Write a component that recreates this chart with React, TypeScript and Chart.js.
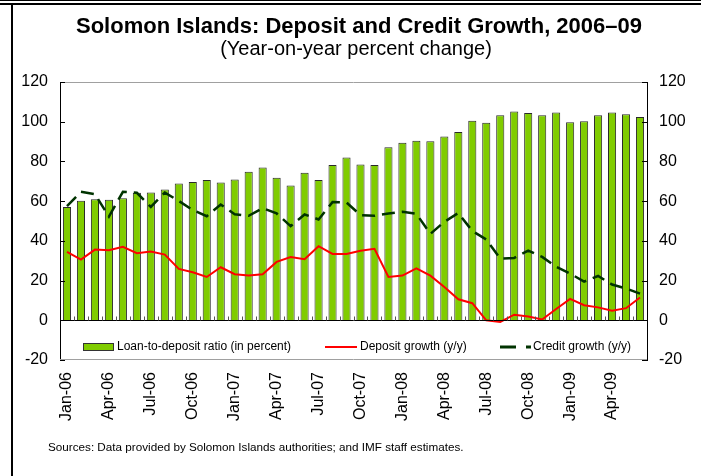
import React, { useEffect, useRef } from "react";
import { Chart, registerables } from "chart.js";

Chart.register(...registerables);

const months = [
  "Jan-06", "Feb-06", "Mar-06", "Apr-06", "May-06", "Jun-06", "Jul-06", "Aug-06", "Sep-06", "Oct-06", "Nov-06", "Dec-06",
  "Jan-07", "Feb-07", "Mar-07", "Apr-07", "May-07", "Jun-07", "Jul-07", "Aug-07", "Sep-07", "Oct-07", "Nov-07", "Dec-07",
  "Jan-08", "Feb-08", "Mar-08", "Apr-08", "May-08", "Jun-08", "Jul-08", "Aug-08", "Sep-08", "Oct-08", "Nov-08", "Dec-08",
  "Jan-09", "Feb-09", "Mar-09", "Apr-09", "May-09", "Jun-09",
];

const loanToDeposit = [
  57.1, 60.2, 61.0, 60.7, 61.5, 64.2, 64.4, 65.9, 68.9, 69.7, 70.6, 69.4,
  70.9, 74.8, 77.0, 71.8, 67.9, 74.3, 70.6, 78.2, 82.0, 78.5, 78.2, 87.1,
  89.4, 90.4, 90.1, 92.6, 94.8, 100.5, 99.5, 103.2, 105.2, 104.4, 103.2, 104.7,
  99.7, 100.2, 103.2, 104.7, 103.7, 102.4,
];

const depositGrowth = [
  34.5, 30.6, 35.6, 35.3, 37.0, 33.8, 34.6, 33.1, 25.9, 24.2, 21.8, 26.7,
  23.2, 22.5, 23.2, 29.4, 31.9, 30.8, 37.3, 33.4, 33.4, 35.0, 36.0, 21.8,
  22.5, 26.2, 22.5, 16.8, 10.6, 8.6, 0.0, -0.8, 2.8, 1.9, 0.4, 5.7,
  10.8, 7.6, 6.5, 4.8, 6.1, 11.5,
];

const creditGrowth = [
  57.5, 64.7, 63.5, 52.2, 64.7, 64.2, 57.1, 64.3, 60.1, 55.5, 52.4, 58.3,
  53.4, 52.6, 56.5, 53.8, 47.4, 53.3, 50.8, 59.5, 59.3, 53.0, 52.6, 53.8,
  54.6, 53.6, 43.5, 49.6, 54.0, 45.0, 40.7, 31.1, 31.4, 35.1, 31.9, 26.9,
  23.5, 19.5, 22.3, 18.0, 16.0, 13.4,
];

const yTicks = [-20, 0, 20, 40, 60, 80, 100, 120];

const titleText = "Solomon Islands: Deposit and Credit Growth, 2006\u201309";
const subtitleText = "(Year-on-year percent change)";
const sourceText = "Sources: Data provided by Solomon Islands authorities; and IMF staff estimates.";
const legendLabels = ["Loan-to-deposit ratio (in percent)", "Deposit growth (y/y)", "Credit growth (y/y)"];

const FONT = "'Liberation Sans', Arial, sans-serif";
const BAR_GREEN = "#80CC00";
const RED = "#FF0000";
const DARK_GREEN = "#003300";

const decorPlugin = {
  id: "decor",
  beforeDatasetsDraw(chart: any) {
    const { ctx, chartArea } = chart;
    ctx.save();
    ctx.strokeStyle = "#a0a0a0";
    ctx.lineWidth = 1;
    ctx.beginPath();
    ctx.moveTo(chartArea.left, Math.round(chartArea.top) + 0.5);
    ctx.lineTo(chartArea.right, Math.round(chartArea.top) + 0.5);
    ctx.moveTo(chartArea.left, Math.round(chartArea.bottom) - 0.5);
    ctx.lineTo(chartArea.right, Math.round(chartArea.bottom) - 0.5);
    ctx.stroke();
    ctx.restore();
  },
  afterDatasetsDraw(chart: any) {
    const { ctx, chartArea, scales } = chart;
    const y = scales.y;
    ctx.save();
    const y0 = Math.round(y.getPixelForValue(0)) + 0.5;
    ctx.strokeStyle = "#000";
    ctx.lineWidth = 1;
    ctx.beginPath();
    ctx.moveTo(chartArea.left, y0);
    ctx.lineTo(chartArea.right, y0);
    ctx.stroke();
    ctx.strokeStyle = "#555";
    ctx.beginPath();
    const n = months.length;
    const step = (chartArea.right - chartArea.left) / n;
    for (let i = 1; i < n; i++) {
      const px = Math.round(chartArea.left + step * i) + 0.5;
      ctx.moveTo(px, y0);
      ctx.lineTo(px, y0 - 4);
    }
    ctx.stroke();
    ctx.strokeStyle = "#000";
    ctx.beginPath();
    for (const v of yTicks) {
      const py = Math.round(y.getPixelForValue(v)) + 0.5;
      ctx.moveTo(chartArea.left, py);
      ctx.lineTo(chartArea.left + 5, py);
      ctx.moveTo(chartArea.right, py);
      ctx.lineTo(chartArea.right - 5, py);
    }
    ctx.stroke();

    const ly = 347;
    ctx.font = `12px ${FONT}`;
    ctx.textBaseline = "middle";
    ctx.textAlign = "left";
    ctx.fillStyle = BAR_GREEN;
    ctx.fillRect(83, ly - 4, 30, 8);
    ctx.strokeStyle = "#333";
    ctx.strokeRect(83.5, ly - 3.5, 30, 7);
    ctx.fillStyle = "#000";
    ctx.fillText(legendLabels[0], 117, ly);

    ctx.strokeStyle = RED;
    ctx.lineWidth = 2;
    ctx.beginPath();
    ctx.moveTo(325, ly);
    ctx.lineTo(357, ly);
    ctx.stroke();
    ctx.fillText(legendLabels[1], 360, ly);

    ctx.strokeStyle = DARK_GREEN;
    ctx.lineWidth = 3;
    ctx.setLineDash([16, 10]);
    ctx.beginPath();
    ctx.moveTo(500, ly);
    ctx.lineTo(531, ly);
    ctx.stroke();
    ctx.setLineDash([]);
    ctx.fillText(legendLabels[2], 533, ly);
    ctx.restore();
  },
  afterDraw(chart: any) {
    const { ctx, width, height } = chart;
    ctx.save();
    ctx.fillStyle = "#000";
    ctx.fillRect(0, 0, width, 1);
    ctx.fillRect(0, 3, width, 2);
    ctx.fillRect(11, 3, 2, height - 3);
    ctx.textAlign = "center";
    ctx.textBaseline = "middle";
    ctx.font = `bold 22px ${FONT}`;
    ctx.fillText(titleText, 359, 27);
    ctx.font = `20px ${FONT}`;
    ctx.fillText(subtitleText, 356, 49);
    ctx.textAlign = "left";
    ctx.font = `11.7px ${FONT}`;
    ctx.fillText(sourceText, 48, 448);
    ctx.restore();
  },
};

export default function App() {
  const canvasRef = useRef<HTMLCanvasElement | null>(null);

  useEffect(() => {
    document.body.style.margin = "0";
    const canvas = canvasRef.current;
    if (!canvas) return;
    const chart = new Chart(canvas, {
      type: "bar",
      data: {
        labels: months,
        datasets: [
          {
            type: "line",
            label: legendLabels[1],
            data: depositGrowth,
            borderColor: RED,
            borderWidth: 2,
            pointRadius: 0,
            tension: 0,
            order: 1,
            yAxisID: "y",
          },
          {
            type: "line",
            label: legendLabels[2],
            data: creditGrowth,
            borderColor: DARK_GREEN,
            borderWidth: 2.5,
            borderDash: [13, 7],
            pointRadius: 0,
            tension: 0,
            order: 2,
            yAxisID: "y",
          },
          {
            type: "bar",
            label: legendLabels[0],
            data: loanToDeposit,
            backgroundColor: BAR_GREEN,
            borderColor: "#2a2a2a",
            borderWidth: { top: 1, left: 1, right: 1, bottom: 0 },
            borderSkipped: "bottom",
            barPercentage: 0.58,
            categoryPercentage: 1,
            order: 3,
            yAxisID: "y",
          },
        ] as any,
      },
      options: {
        responsive: false,
        animation: false,
        devicePixelRatio: 1,
        layout: { padding: { top: 82, left: 0, right: 0, bottom: 0 } },
        plugins: {
          legend: { display: false },
          title: { display: false },
          tooltip: { enabled: false },
        },
        scales: {
          x: {
            offset: true,
            grid: { display: false, drawTicks: false },
            border: { display: false },
            ticks: {
              autoSkip: false,
              minRotation: 90,
              maxRotation: 90,
              padding: 12,
              color: "#000",
              font: { family: FONT, size: 16 },
              callback: (_v: any, i: number) => (i % 3 === 0 ? months[i] : ""),
            },
            afterFit: (s: any) => {
              s.height = 116;
            },
          },
          y: {
            position: "left",
            min: -20,
            max: 120,
            grid: { display: false, drawTicks: false },
            border: { display: true, color: "#000", width: 1 },
            ticks: {
              stepSize: 20,
              padding: 12,
              color: "#000",
              font: { family: FONT, size: 16 },
            },
            afterFit: (s: any) => {
              s.width = 60;
            },
          },
          y2: {
            position: "right",
            min: -20,
            max: 120,
            grid: { display: false, drawTicks: false },
            border: { display: true, color: "#000", width: 1 },
            ticks: {
              stepSize: 20,
              padding: 12,
              color: "#000",
              font: { family: FONT, size: 16 },
            },
            afterFit: (s: any) => {
              s.width = 54;
            },
          },
        },
      },
      plugins: [decorPlugin],
    });
    return () => chart.destroy();
  }, []);

  return (
    <div style={{ width: 701, height: 476, position: "relative", background: "#fff" }}>
      <canvas ref={canvasRef} width={701} height={476} />
    </div>
  );
}
